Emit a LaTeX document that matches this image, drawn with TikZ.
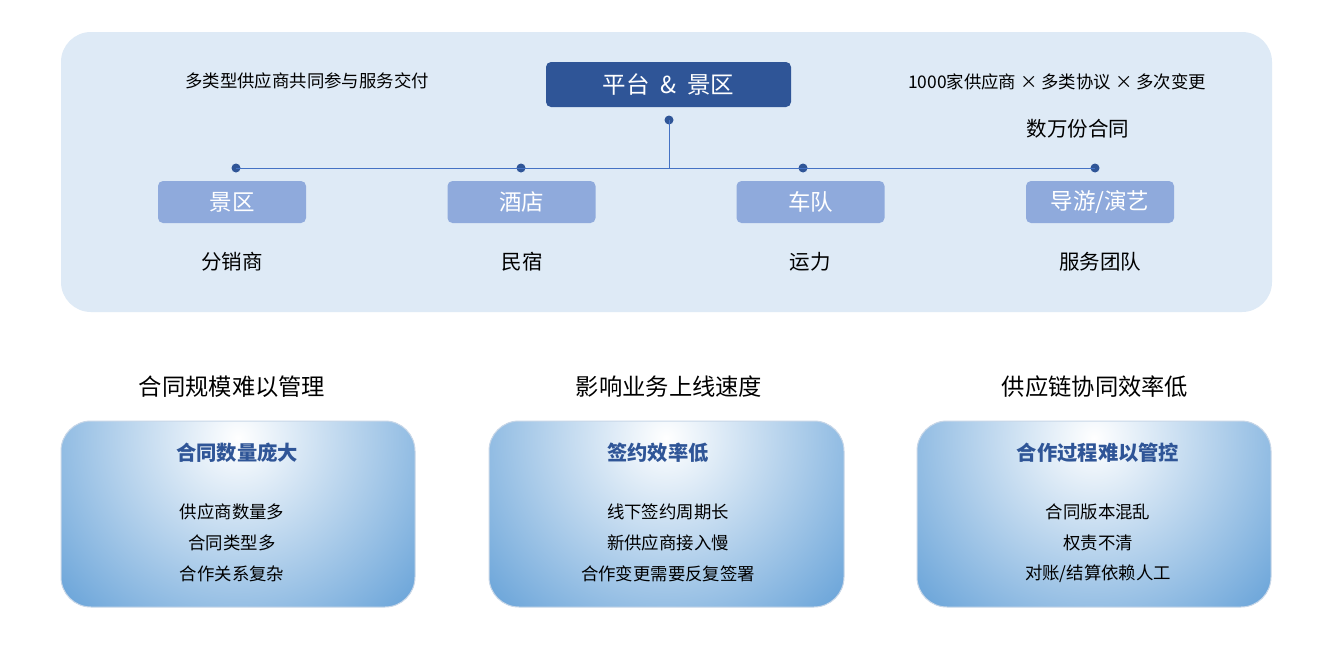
\documentclass[tikz,border=0pt]{standalone}
\usepackage{fontspec}
\setmainfont{Noto Sans CJK SC}
\definecolor{bgblue}{HTML}{DEEAF6}
\definecolor{navy}{HTML}{2F5597}
\definecolor{linec}{HTML}{4472C4}
\definecolor{subfill}{HTML}{8FAADC}
\definecolor{gradout}{HTML}{5B9BD5}
\definecolor{gradedge}{HTML}{C8D7E8}
\tikzset{
  topbox/.style={fill=navy, rounded corners=5pt, text=white, minimum width=245pt, minimum height=45pt, inner sep=0pt, font=\fontsize{23.5}{27}\selectfont},
  subbox/.style={fill=subfill, rounded corners=5pt, text=white, minimum width=148pt, minimum height=42pt, inner sep=0pt, font=\fontsize{22.5}{26}\selectfont},
  dotc/.style={circle, fill=navy, inner sep=0pt, minimum size=9pt},
  conn/.style={draw=linec, line width=1pt},
  lbl/.style={inner sep=0pt, text=black, font=\fontsize{20.5}{24}\selectfont},
  note/.style={inner sep=0pt, text=black, font=\fontsize{17.4}{21}\selectfont},
  head/.style={inner sep=0pt, text=black, font=\fontsize{23.3}{27}\selectfont},
  ptitle/.style={inner sep=0pt, text=navy, font=\bfseries\fontsize{20.3}{24}\selectfont},
  pline/.style={inner sep=0pt, text=black, font=\fontsize{17.4}{21}\selectfont},
}
\newcommand{\gradpanel}[3]{%
  \begin{scope}
    \clip[rounded corners=30pt] (#1,421) rectangle (#2,607);
    \fill[gradout] (#1,421) rectangle (#2,607);
    \shade[inner color=white, outer color=gradout] (#3,438) circle (265);
  \end{scope}
  \draw[gradedge, line width=1pt, rounded corners=30pt] (#1,421) rectangle (#2,607);
}
\begin{document}
\begin{tikzpicture}[x=1pt,y=-1pt]
\useasboundingbox (0,0) rectangle (1319,659);
\fill[white] (0,0) rectangle (1319,659);
% top panel
\fill[bgblue, rounded corners=30pt] (61,32) rectangle (1272,312);
\node[topbox] (top) at (668.5,84.5) {平台 \ \& \ 景区};
\node[dotc] (d0) at (669,120) {};
\coordinate (j) at (669,168);
\node[dotc] (d1) at (236,168) {};
\node[dotc] (d2) at (521,168) {};
\node[dotc] (d3) at (803,168) {};
\node[dotc] (d4) at (1095,168) {};
\draw[conn] (d0.center) -- (j);
\draw[conn] (d1.center) -- (d4.center);
\node[subbox] (s1) at (232,202) {景区};
\node[subbox] (s2) at (521.5,202) {酒店};
\node[subbox] (s3) at (810.5,202) {车队};
\node[subbox] (s4) at (1100,202) {导游/演艺};
\node[lbl] (l1) at (232,262) {分销商};
\node[lbl] (l2) at (522,262) {民宿};
\node[lbl] (l3) at (810,262) {运力};
\node[lbl] (l4) at (1100,262) {服务团队};
\node[note] (n1) at (307,81) {多类型供应商共同参与服务交付};
\node[note] (n2) at (1057,82) {1000家供应商 × 多类协议 × 多次变更};
\node[lbl] (n3) at (1078,129) {数万份合同};
% headers
\node[head] (h1) at (232,387) {合同规模难以管理};
\node[head] (h2) at (669,387) {影响业务上线速度};
\node[head] (h3) at (1095,387) {供应链协同效率低};
% panels
\gradpanel{61}{415}{238}
\gradpanel{489}{844}{666}
\gradpanel{917}{1271}{1094}
\node[ptitle] (p1) at (237,453) {合同数量庞大};
\node[pline] (p1a) at (232,512) {供应商数量多};
\node[pline] (p1b) at (232,543) {合同类型多};
\node[pline] (p1c) at (232,574) {合作关系复杂};
\node[ptitle] (p2) at (658,453) {签约效率低};
\node[pline] (p2a) at (668,512) {线下签约周期长};
\node[pline] (p2b) at (668,543) {新供应商接入慢};
\node[pline] (p2c) at (668,574) {合作变更需要反复签署};
\node[ptitle] (p3) at (1098,453) {合作过程难以管控};
\node[pline] (p3a) at (1098,512) {合同版本混乱};
\node[pline] (p3b) at (1098,543) {权责不清};
\node[pline] (p3c) at (1098,574) {对账/结算依赖人工};
\end{tikzpicture}
\end{document}
